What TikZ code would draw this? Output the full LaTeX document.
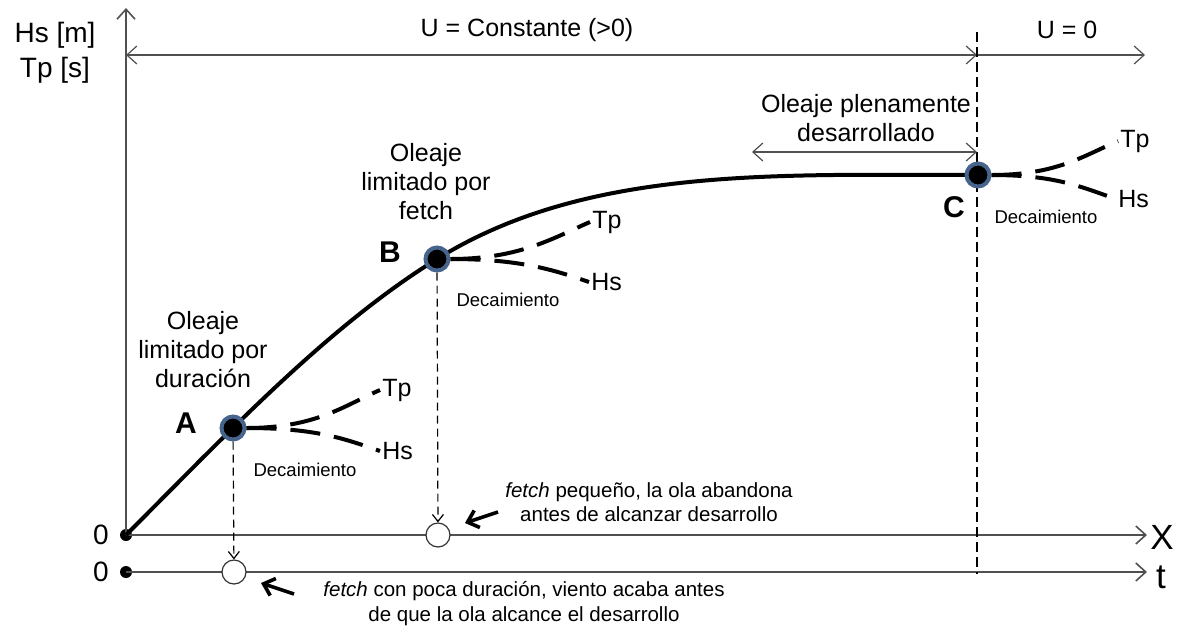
\documentclass[tikz,border=0pt]{standalone}
\usepackage{fontspec}
\setmainfont{Liberation Sans}
\usetikzlibrary{arrows.meta}

\definecolor{anillo}{RGB}{70,100,140}
\definecolor{gris}{RGB}{80,80,80}

\tikzset{
  eje/.style={draw=gris, line width=0.8pt, -{Straight Barb[length=5pt,width=9pt]}},
  cota/.style={draw=gris, line width=0.6pt, {Straight Barb[length=5pt,width=9pt]}-{Straight Barb[length=5pt,width=9pt]}},
  curva/.style={line width=2pt},
  punto/.style={circle, fill=black, draw=anillo, line width=2pt, minimum size=11.5pt, inner sep=0pt},
  hueco/.style={circle, draw=black!80, line width=0.6pt, fill=white, minimum size=12pt, inner sep=0pt},
  origen/.style={circle, fill=black, minimum size=6pt, inner sep=0pt},
  decae/.style={line width=2pt, dash pattern=on 15pt off 7pt},
  caida/.style={line width=0.6pt, dash pattern=on 4pt off 2.5pt, -{Straight Barb[length=3.5pt,width=5.5pt]}},
  aviso/.style={line width=1.8pt, -{Straight Barb[length=5pt,width=9pt]}},
  texto/.style={font=\fontsize{12.5}{14.5}\selectfont, align=center},
  nota/.style={font=\fontsize{10.25}{12}\selectfont, align=center},
  letra/.style={font=\fontsize{15}{18}\selectfont\bfseries},
  mini/.style={font=\fontsize{9.25}{11}\selectfont},
  hstp/.style={font=\fontsize{12.5}{14}\selectfont, anchor=west, inner sep=1pt},
}

\begin{document}
\begin{tikzpicture}[x=0.5pt, y=-0.5pt]
\useasboundingbox (0,0) rectangle (1184,628);

% ejes
\node[origen] (O) at (126,535) {};
\node[origen] (Ot) at (126,572) {};
\coordinate (ytop) at (126,8);
\coordinate (xend) at (1147,535);
\coordinate (tend) at (1147,572);
\draw[eje] (O.center) -- (ytop);
\draw[eje] (O.center) -- (xend);
\draw[eje] (Ot.center) -- (tend);
\node[font=\fontsize{17.5}{20}\selectfont] (lblX) at (1162,537) {X};
\node[font=\fontsize{17.5}{20}\selectfont] (lblt) at (1161,577) {t};
\node[font=\fontsize{14}{17}\selectfont] (cero1) at (101,535) {0};
\node[font=\fontsize{14}{17}\selectfont] (cero2) at (101,572) {0};
\node[font=\fontsize{14}{17.5}\selectfont, align=center] (ejey) at (55,53) {Hs [m]\\Tp [s]};

% viento
\coordinate (dimL) at (126,55);
\coordinate (dimM) at (977,55);
\coordinate (dimR) at (1145,55);
\draw[cota] (dimL) -- (dimM);
\draw[draw=gris, line width=0.6pt, -{Straight Barb[length=5pt,width=9pt]}] (dimM) -- (dimR);
\node[texto] (Ucte) at (527,30) {U = Constante (>0)};
\node[texto] (Ucero) at (1067,30) {U = 0};
\coordinate (vtop) at (977,32);
\coordinate (vbot) at (977,574);
\draw[line width=0.6pt, dash pattern=on 5pt off 2.5pt] (vtop) -- (vbot);

% curva de crecimiento
\coordinate (pB) at (437,259);
\coordinate (pC) at (978,175);
\draw[curva] (O.center) .. controls (226,435) and (327,327) .. (pB)
  .. controls (587,166) and (776,175) .. (pC);

\node[punto] (A) at (233,428) {};
\node[punto] (B) at (pB) {};
\node[punto] (C) at (pC) {};
\node[letra] (lA) at (186,423) {A};
\node[letra] (lB) at (390,252) {B};
\node[letra] (lC) at (954,207) {C};

% decaimiento
\node[hstp] (tpA) at (380,390) {Tp};
\node[hstp] (hsA) at (380,451) {Hs};
\draw[decae] (A.east) .. controls +(70,0) and +(-35,15) .. (tpA.west);
\draw[decae] (A.east) .. controls +(70,0) and +(-35,-12) .. (hsA.west);
\node[mini] (dA) at (305,470) {Decaimiento};

\node[hstp] (tpB) at (590,222) {Tp};
\node[hstp] (hsB) at (589,282) {Hs};
\draw[decae] (B.east) .. controls +(70,0) and +(-35,15) .. (tpB.west);
\draw[decae] (B.east) .. controls +(70,0) and +(-35,-12) .. (hsB.west);
\node[mini] (dB) at (508,300) {Decaimiento};

\node[hstp] (tpC) at (1118,141) {Tp};
\node[hstp] (hsC) at (1116,199) {Hs};
\draw[decae] (C.east) .. controls +(65,0) and +(-35,15) .. (tpC.west);
\draw[decae] (C.east) .. controls +(65,0) and +(-35,-12) .. (hsC.west);
\node[mini] (dC) at (1046,217) {Decaimiento};

% textos
\node[texto] (tA) at (203,350) {Oleaje\\limitado por\\duración};
\node[texto] (tB) at (426,182) {Oleaje\\limitado por\\fetch};
\node[texto] (tC) at (866,118) {Oleaje plenamente\\desarrollado};
\coordinate (dL) at (752,152);
\coordinate (dR) at (977,152);
\draw[cota] (dL) -- (dR);

% fin del oleaje
\node[hueco] (cA) at (234,572) {};
\node[hueco] (cB) at (438,535) {};
\draw[caida] (A) -- (cA);
\draw[caida] (B) -- (cB);
\coordinate (f1) at (498,512);
\coordinate (f1p) at (465,523);
\draw[aviso] (f1) -- (f1p);
\coordinate (f2) at (294,594);
\coordinate (f2p) at (261,583);
\draw[aviso] (f2) -- (f2p);
\node[nota] (nB) at (649,502) {\textit{fetch} pequeño, la ola abandona\\antes de alcanzar desarrollo};
\node[nota, font=\fontsize{10.25}{12.5}\selectfont] (nA) at (524,604) {\textit{fetch} con poca duración, viento acaba antes\\de que la ola alcance el desarrollo};
\end{tikzpicture}
\end{document}
